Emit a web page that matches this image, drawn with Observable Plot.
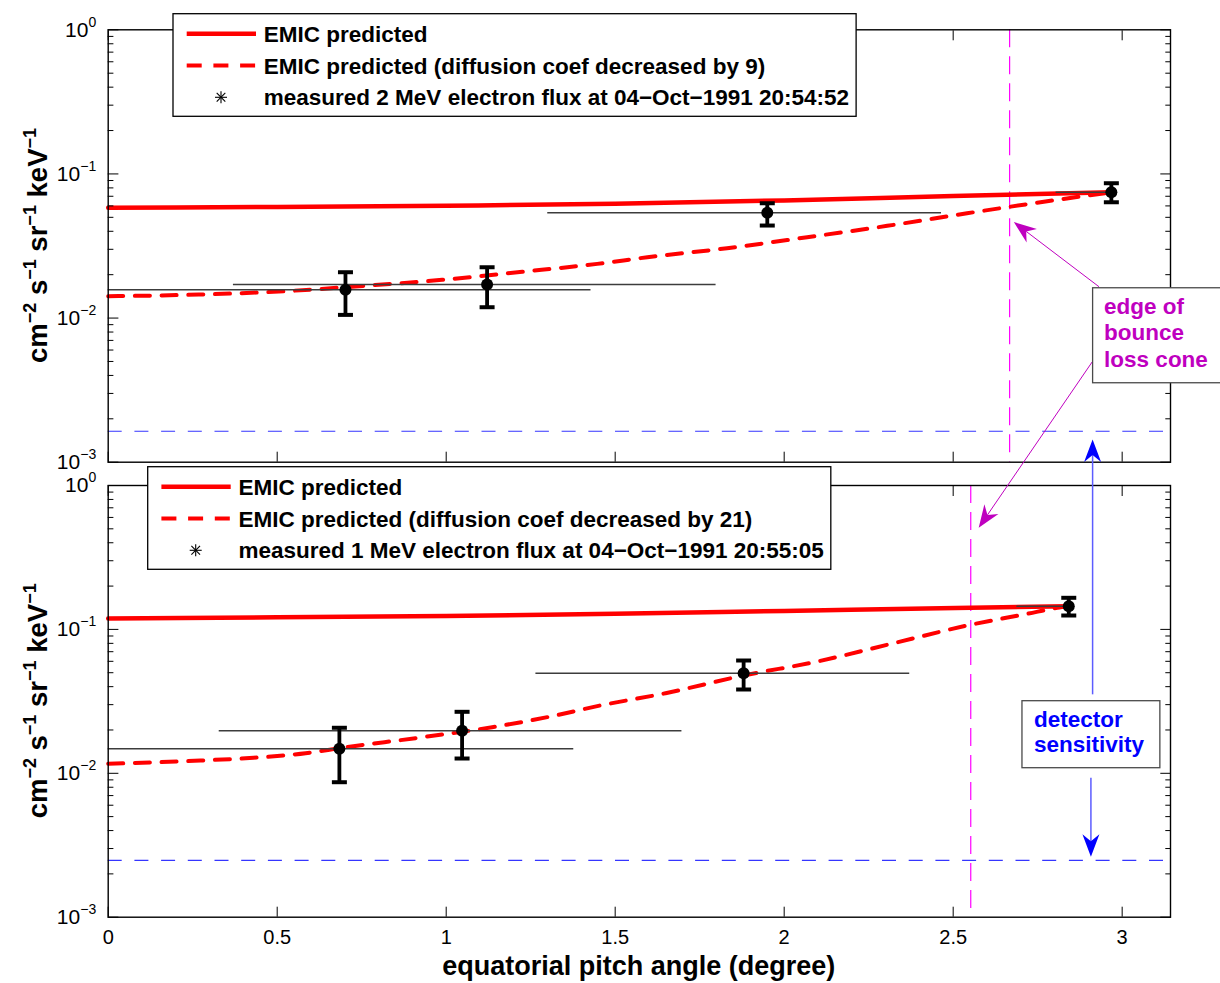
<!DOCTYPE html>
<html><head><meta charset="utf-8">
<script src="https://cdn.jsdelivr.net/npm/d3@7"></script>
<script src="https://cdn.jsdelivr.net/npm/@observablehq/plot@0.6"></script>
<style>
body{margin:0;background:#fff;}
#wrap{position:relative;width:1220px;height:983px;overflow:hidden;font-family:"Liberation Sans",Arial,Helvetica,sans-serif;background:#fff;}
#wrap > svg{position:absolute;left:0;}
</style></head><body><div id="wrap"></div>
<script>
// ---------------- data ----------------
const xDomain = [0, 3.143];
const yDomain = [1e-3, 1];
const xTicks = [0, 0.5, 1, 1.5, 2, 2.5, 3];
const yMajor = [1e-3, 1e-2, 1e-1, 1];
const yMinorMult = [2, 3, 4, 5, 6, 7, 8, 9];

// Top panel (2 MeV)
const topPredX = [0, 0.5, 1.0, 1.5, 2.0, 2.5, 2.968];
const topPredY = [0.0582, 0.0590, 0.0602, 0.0621, 0.0655, 0.0703, 0.0746];
const topDecX = [0, 0.268, 0.505, 0.742, 0.988, 1.225, 1.447, 1.595, 1.831, 2.068, 2.305, 2.541, 2.778, 2.968];
const topDecY = [0.01417, 0.01456, 0.01528, 0.01663, 0.01841, 0.02093, 0.02377, 0.02642, 0.03051, 0.03637, 0.04363, 0.05334, 0.06463, 0.0746];
const topMeasX = [0.702, 1.121, 1.950, 2.968];
const topMeasY = [0.01570, 0.01708, 0.05370, 0.0746];
const topMeasLo = [0.01052, 0.01189, 0.04385, 0.0636];
const topMeasHi = [0.02080, 0.02252, 0.06260, 0.0862];
const topBinLo = [-0.02, 0.369, 1.299, 2.803];
const topBinHi = [1.427, 1.797, 2.464, 2.968];
const topSensitivity = [0.00164];
const topLossCone = [2.667];
const topLegend = ["EMIC predicted", "EMIC predicted (diffusion coef decreased by 9)", "measured 2 MeV electron flux at 04\u2212Oct\u22121991 20:54:52"];

// Bottom panel (1 MeV)
const botPredX = [0, 0.5, 1.0, 1.5, 2.0, 2.552, 2.842];
const botPredY = [0.1191, 0.1213, 0.1239, 0.1283, 0.1343, 0.1413, 0.1449];
const botDecX = [0, 0.273, 0.430, 0.584, 0.704, 0.909, 1.136, 1.309, 1.456, 1.649, 1.880, 2.098, 2.324, 2.551, 2.719, 2.808, 2.842];
const botDecY = [0.01164, 0.01227, 0.01282, 0.01380, 0.01520, 0.01754, 0.02091, 0.02482, 0.02960, 0.03604, 0.04784, 0.05981, 0.0802, 0.1076, 0.1283, 0.1413, 0.1449];
const botMeasX = [0.684, 1.047, 1.880, 2.842];
const botMeasY = [0.01480, 0.01974, 0.04961, 0.1449];
const botMeasLo = [0.00867, 0.01267, 0.03823, 0.1249];
const botMeasHi = [0.02072, 0.02675, 0.06079, 0.1658];
const botBinLo = [-0.01, 0.327, 1.264, 2.687];
const botBinHi = [1.376, 1.696, 2.370, 2.842];
const botSensitivity = [0.00248];
const botLossCone = [2.552];
const botLegend = ["EMIC predicted", "EMIC predicted (diffusion coef decreased by 21)", "measured 1 MeV electron flux at 04\u2212Oct\u22121991 20:55:05"];

const xLabel = "equatorial pitch angle (degree)";
const yLabelParts = [["cm", false], ["\u22122", true], [" s", false], ["\u22121", true], [" sr", false], ["\u22121", true], [" keV", false], ["\u22121", true]];
const lossConeLabel = ["edge of", "bounce", "loss cone"];
const sensitivityLabel = ["detector", "sensitivity"];

// annotation anchors in panel data coordinates
const lossConeBox = {panel: "top", x1: 2.914, x2: 3.31, y1: 0.01610, y2: 0.00353};
const lossConeArrows = [
  {from: ["top", 2.933, 0.01636], to: ["top", 2.681, 0.0460]},
  {from: ["top", 2.913, 0.004933], to: ["bot", 2.577, 0.5049]}
];
const sensBox = {panel: "bot", x1: 2.705, x2: 3.113, y1: 0.03170, y2: 0.01085};
const sensArrows = [
  {from: ["bot", 2.914, 0.0351], to: ["top", 2.914, 0.001428]},
  {from: ["bot", 2.909, 0.00925], to: ["bot", 2.909, 0.002612]}
];

// ---------------- helpers ----------------
const FONT = '"Liberation Sans", Arial, Helvetica, sans-serif';
const yMinor = [];
for (let e = -3; e < 0; e++) for (const m of yMinorMult) yMinor.push(m * Math.pow(10, e));

const capSymbol = {draw(ctx, size) { const w = Math.sqrt(size / Math.PI); ctx.moveTo(-w, 0); ctx.lineTo(w, 0); }};

function panel(p) {
  const pred = p.predX.map((x, i) => ({x, y: p.predY[i]}));
  const dec = p.decX.map((x, i) => ({x, y: p.decY[i]}));
  const meas = p.measX.map((x, i) => ({x, y: p.measY[i], lo: p.measLo[i], hi: p.measHi[i], b1: p.binLo[i], b2: p.binHi[i]}));
  const marks = [
    Plot.ruleY(p.sens, {stroke: "#3535ff", strokeWidth: 1.2, strokeDasharray: "14,12.7"}),
    Plot.ruleX(p.cone, {stroke: "#ff00ff", strokeWidth: 1.2, strokeDasharray: "18,9"}),
    Plot.line(pred, {x: "x", y: "y", stroke: "#ff0000", strokeWidth: 4.5, curve: "monotone-x"}),
    Plot.line(dec, {x: "x", y: "y", stroke: "#ff0000", strokeWidth: 4, strokeDasharray: "15,11.7", curve: "monotone-x"}),
    Plot.link(meas, {x1: "b1", x2: "b2", y1: "y", y2: "y", stroke: "#3c3c3c", strokeWidth: 1.5, clip: true}),
    Plot.ruleX(meas, {x: "x", y1: "lo", y2: "hi", stroke: "black", strokeWidth: 3.8}),
    Plot.dot(meas, {x: "x", y: "lo", symbol: capSymbol, r: 7.5, stroke: "black", strokeWidth: 4, fill: "none"}),
    Plot.dot(meas, {x: "x", y: "hi", symbol: capSymbol, r: 7.5, stroke: "black", strokeWidth: 4, fill: "none"}),
    Plot.dot(meas, {x: "x", y: "y", r: 6, fill: "black", stroke: "none"}),
    Plot.frame({stroke: "black", strokeWidth: 1.4}),
    Plot.axisX({anchor: "bottom", ticks: xTicks, tickSize: -10, tickFormat: () => "", label: null}),
    Plot.axisX({anchor: "top", ticks: xTicks, tickSize: -10, tickFormat: () => "", label: null}),
    Plot.axisY({anchor: "left", ticks: yMajor, tickSize: -10.7, tickFormat: () => "", label: null}),
    Plot.axisY({anchor: "right", ticks: yMajor, tickSize: -10.7, tickFormat: () => "", label: null}),
    Plot.axisY({anchor: "left", ticks: yMinor, tickSize: -5.7, tickFormat: () => "", label: null}),
    Plot.axisY({anchor: "right", ticks: yMinor, tickSize: -5.7, tickFormat: () => "", label: null}),
    Plot.axisY({anchor: "left", ticks: yMajor, tickSize: 0, tickPadding: 12, label: null, fontSize: 21,
      tickFormat: d => "10^" + Math.round(Math.log10(d))})
  ];
  if (p.xLabels) marks.push(Plot.axisX({anchor: "bottom", ticks: xTicks, tickSize: 0, tickPadding: 13, label: null, fontSize: 20, tickFormat: d => String(d)}));
  const svg = Plot.plot({
    width: 1220, height: p.height,
    marginLeft: 107.7, marginRight: 50, marginTop: p.marginTop, marginBottom: p.marginBottom,
    x: {domain: xDomain, label: null},
    y: {type: "log", domain: yDomain, label: null},
    style: {fontFamily: FONT, fontSize: "20px", color: "black", background: "transparent", overflow: "visible"},
    marks
  });
  // superscript exponents on y tick labels
  svg.querySelectorAll('[aria-label="y-axis tick label"] text').forEach(t => {
    const s = t.textContent;
    if (!s.startsWith("10^")) return;
    const e = s.slice(3);
    t.textContent = "";
    const ns = "http://www.w3.org/2000/svg";
    const a = document.createElementNS(ns, "tspan"); a.textContent = "10"; t.appendChild(a);
    const b = document.createElementNS(ns, "tspan"); b.textContent = e.replace("-", "\u2212");
    b.setAttribute("dy", "-10"); b.setAttribute("font-size", "14"); t.appendChild(b);
  });
  return svg;
}

const wrap = document.getElementById("wrap");
const TOP_H = 470;
const topSvg = panel({predX: topPredX, predY: topPredY, decX: topDecX, decY: topDecY,
  measX: topMeasX, measY: topMeasY, measLo: topMeasLo, measHi: topMeasHi, binLo: topBinLo, binHi: topBinHi,
  sens: topSensitivity, cone: topLossCone, xLabels: false, height: TOP_H, marginTop: 29.3, marginBottom: 8.3});
const botSvg = panel({predX: botPredX, predY: botPredY, decX: botDecX, decY: botDecY,
  measX: botMeasX, measY: botMeasY, measLo: botMeasLo, measHi: botMeasHi, binLo: botBinLo, binHi: botBinHi,
  sens: botSensitivity, cone: botLossCone, xLabels: true, height: 983 - TOP_H, marginTop: 15, marginBottom: 66.3});
topSvg.style.top = "0px";
botSvg.style.top = TOP_H + "px";
wrap.appendChild(topSvg);
wrap.appendChild(botSvg);

// ---------------- overlay: labels, legends, annotations ----------------
const scales = {
  top: {x: topSvg.scale("x"), y: topSvg.scale("y"), off: 0},
  bot: {x: botSvg.scale("x"), y: botSvg.scale("y"), off: TOP_H}
};
function pt(panelName, x, y) {
  const s = scales[panelName];
  return [s.x.apply(x), s.off + s.y.apply(y)];
}
function frameOf(panelName) {
  const s = scales[panelName];
  return {left: s.x.range[0], right: s.x.range[1], top: s.off + s.y.range[1], bottom: s.off + s.y.range[0]};
}

const ov = d3.select(wrap).append("svg").attr("width", 1220).attr("height", 983)
  .style("top", "0px").attr("font-family", FONT);

// y labels
for (const name of ["top", "bot"]) {
  const f = frameOf(name);
  const cy = (f.top + f.bottom) / 2;
  const t = ov.append("text").attr("transform", `translate(47,${cy}) rotate(-90)`)
    .attr("text-anchor", "middle").attr("font-weight", "bold").attr("font-size", 27.5);
  let raised = false;
  for (const [s, sup] of yLabelParts) {
    const ts = t.append("tspan").text(s);
    if (sup && !raised) { ts.attr("dy", -11).attr("font-size", 18); raised = true; }
    else if (!sup && raised) { ts.attr("dy", 11); raised = false; }
    else if (sup) ts.attr("font-size", 18);
  }
}
// x label
{
  const f = frameOf("bot");
  ov.append("text").attr("x", (f.left + f.right) / 2).attr("y", 975).attr("text-anchor", "middle")
    .attr("font-weight", "bold").attr("font-size", 27).text(xLabel);
}

// legends
function legend(name, labels, dx, dyTop) {
  const f = frameOf(name);
  const L = f.left + dx, T = f.top + dyTop;
  const g = ov.append("g");
  const box = g.append("rect").attr("x", L).attr("y", T).attr("height", 102.6)
    .attr("fill", "white").attr("stroke", "black").attr("stroke-width", 1.3);
  let maxW = 0;
  labels.forEach((s, i) => {
    const cy = T + 20 + i * 31.8;
    const t = g.append("text").attr("x", L + 90.8).attr("y", cy + 8).attr("font-weight", "bold")
      .attr("font-size", 22.5).text(s);
    maxW = Math.max(maxW, t.node().getComputedTextLength());
    if (i === 0) g.append("line").attr("x1", L + 13.7).attr("x2", L + 83).attr("y1", cy).attr("y2", cy)
      .attr("stroke", "#ff0000").attr("stroke-width", 4.5);
    if (i === 1) g.append("line").attr("x1", L + 13.7).attr("x2", L + 83).attr("y1", cy).attr("y2", cy)
      .attr("stroke", "#ff0000").attr("stroke-width", 4).attr("stroke-dasharray", "15,11.7");
    if (i === 2) {
      const ax = L + 48, r = 6;
      const a = g.append("g").attr("stroke", "black").attr("stroke-width", 1.1);
      a.append("line").attr("x1", ax).attr("x2", ax).attr("y1", cy - r).attr("y2", cy + r);
      a.append("line").attr("x1", ax - r).attr("x2", ax + r).attr("y1", cy).attr("y2", cy);
      a.append("line").attr("x1", ax - r * .72).attr("x2", ax + r * .72).attr("y1", cy - r * .72).attr("y2", cy + r * .72);
      a.append("line").attr("x1", ax - r * .72).attr("x2", ax + r * .72).attr("y1", cy + r * .72).attr("y2", cy - r * .72);
    }
  });
  box.attr("width", 90.8 + maxW + 7);
}
legend("top", topLegend, 65.3, -15.6);
legend("bot", botLegend, 40, -18.3);

// annotations
function arrow(from, to, shaftColor, shaftW, headColor) {
  const [x1, y1] = pt(...from), [x2, y2] = pt(...to);
  const dx = x2 - x1, dy = y2 - y1, len = Math.hypot(dx, dy), ux = dx / len, uy = dy / len, px = -uy, py = ux;
  const Lh = 22.5, W = 8.5, N = 7;
  const bx = x2 - ux * Lh, by = y2 - uy * Lh, nx = x2 - ux * (Lh - N), ny = y2 - uy * (Lh - N);
  ov.append("line").attr("x1", x1).attr("y1", y1).attr("x2", nx).attr("y2", ny)
    .attr("stroke", shaftColor).attr("stroke-width", shaftW);
  ov.append("path").attr("d", `M${x2},${y2}L${bx + px * W},${by + py * W}L${nx},${ny}L${bx - px * W},${by - py * W}Z`)
    .attr("fill", headColor);
}
function textBox(b, lines, color, lineH, firstBase, padL) {
  const [xa, ya] = pt(b.panel, b.x1, b.y1), [xb, yb] = pt(b.panel, b.x2, b.y2);
  ov.append("rect").attr("x", xa).attr("y", ya).attr("width", xb - xa).attr("height", yb - ya)
    .attr("fill", "white").attr("stroke", "#4a4a4a").attr("stroke-width", 1.3);
  lines.forEach((s, i) => ov.append("text").attr("x", xa + padL).attr("y", ya + firstBase + i * lineH)
    .attr("fill", color).attr("font-weight", "bold").attr("font-size", 22.5).text(s));
}
for (const a of lossConeArrows) arrow(a.from, a.to, "#bf00bf", 1, "#bf00bf");
for (const a of sensArrows) arrow(a.from, a.to, "#5c5cff", 1.5, "#0000ff");
textBox(lossConeBox, lossConeLabel, "#bf00bf", 26.7, 26, 11.5);
textBox(sensBox, sensitivityLabel, "#0000ff", 25.6, 26, 12);
</script></body></html>
